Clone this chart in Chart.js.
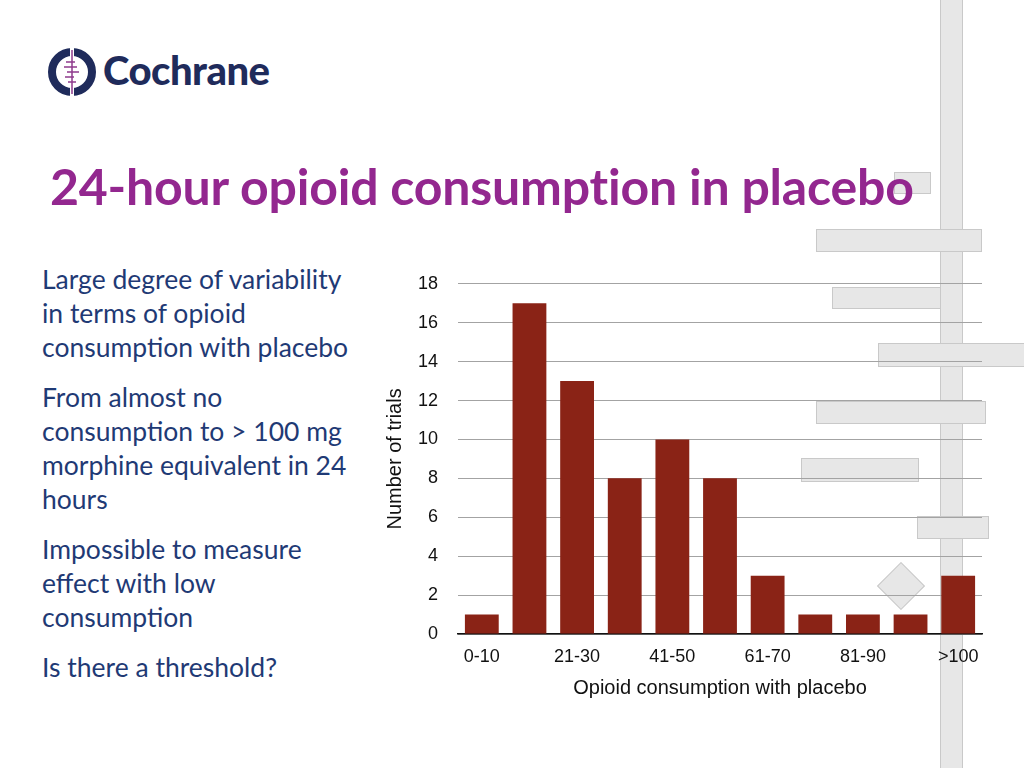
<!DOCTYPE html>
<html>
<head>
<meta charset="utf-8">
<script src="https://cdn.jsdelivr.net/npm/chart.js@4.4.0/dist/chart.umd.min.js"></script>
<style>
  html, body { margin: 0; padding: 0; background: #fff; }
  #slide { position: relative; width: 1024px; height: 768px; overflow: hidden; }
  .deco { position: absolute; background: #e7e7e7; border: 1px solid #c9c9c9; box-sizing: border-box; }
  #logoText { position: absolute; left: 103px; top: 46px; font: 900 40px Lato, sans-serif; color: #1f2b5b; letter-spacing: -0.5px; }
  #title { position: absolute; left: 50px; top: 156px; font: 700 50px Lato, sans-serif; color: #93278f; white-space: nowrap; letter-spacing: -0.2px; }
  #notes { position: absolute; left: 42px; top: 262px; width: 360px; font: 400 26.5px Lato, sans-serif; color: #1f3a75; line-height: 34px; white-space: nowrap; }
  #notes p { margin: 0 0 16px 0; }
  #chartBox { position: absolute; left: 375px; top: 253px; width: 620px; height: 457px; }
</style>
</head>
<body>
<div id="slide">
  <!-- background decoration -->
  <div class="deco" style="left:940px;top:-2px;width:23px;height:772px;"></div>
  <div class="deco" style="left:894px;top:172px;width:37px;height:22px;"></div>
  <div class="deco" style="left:816px;top:229px;width:166px;height:23px;"></div>
  <div class="deco" style="left:832px;top:287px;width:109px;height:22px;"></div>
  <div class="deco" style="left:878px;top:343px;width:150px;height:24px;"></div>
  <div class="deco" style="left:816px;top:401px;width:170px;height:23px;"></div>
  <div class="deco" style="left:801px;top:458px;width:118px;height:24px;"></div>
  <div class="deco" style="left:917px;top:516px;width:72px;height:23px;"></div>
  <div class="deco" style="left:884px;top:569px;width:34px;height:34px;transform:rotate(45deg);"></div>

  <svg style="position:absolute;left:46px;top:46px;" width="54" height="54" viewBox="0 0 54 54">
    <circle cx="26" cy="26" r="20" fill="none" stroke="#1f2b5b" stroke-width="8"/>
    <rect x="24" y="2" width="4" height="48" fill="#fff"/>
    <line x1="26" y1="4" x2="26" y2="48" stroke="#8e3a8c" stroke-width="1.5"/>
    <g stroke="#8e3a8c" stroke-width="1.5">
      <line x1="20" y1="16" x2="29" y2="16"/>
      <line x1="18" y1="21" x2="31" y2="21"/>
      <line x1="21" y1="26" x2="33" y2="26"/>
      <line x1="19" y1="31" x2="28" y2="31"/>
      <line x1="22" y1="36" x2="30" y2="36"/>
    </g>
  </svg>
  <div id="logoText">Cochrane</div>

  <div id="title">24-hour opioid consumption in placebo</div>

  <div id="notes">
    <p>Large degree of variability<br>in terms of opioid<br>consumption with placebo</p>
    <p>From almost no<br>consumption to &gt; 100 mg<br>morphine equivalent in 24<br>hours</p>
    <p>Impossible to measure<br>effect with low<br>consumption</p>
    <p>Is there a threshold?</p>
  </div>

  <div id="chartBox"><canvas id="chart"></canvas></div>
</div>

<script>
// Data
const categories = ['0-10', '11-20', '21-30', '31-40', '41-50', '51-60', '61-70', '71-80', '81-90', '91-100', '>100'];
const trials = [1, 17, 13, 8, 10, 8, 3, 1, 1, 1, 3];
const yTicks = [0, 2, 4, 6, 8, 10, 12, 14, 16, 18];

const axisFont = { family: 'Liberation Sans, Arial, sans-serif', size: 18 };
const titleFont = { family: 'Liberation Sans, Arial, sans-serif', size: 20 };

new Chart(document.getElementById('chart'), {
  type: 'bar',
  data: {
    labels: categories,
    datasets: [{
      label: 'Number of trials',
      data: trials,
      backgroundColor: '#8a2316',
      borderWidth: 0,
      categoryPercentage: 1,
      barPercentage: 0.71
    }]
  },
  options: {
    responsive: true,
    maintainAspectRatio: false,
    animation: false,
    layout: { padding: { top: 6, right: 13, left: 0, bottom: 0 } },
    plugins: { legend: { display: false }, tooltip: { enabled: false } },
    scales: {
      x: {
        grid: { display: false, drawTicks: false },
        border: { display: true, color: '#111', width: 1.5 },
        ticks: {
          autoSkip: false, maxRotation: 0, padding: 12,
          color: '#111', font: axisFont,
          callback: (v, i) => i % 2 === 0 ? categories[i] : ''
        },
        title: { display: true, text: 'Opioid consumption with placebo', color: '#111', font: titleFont, padding: { bottom: 10, top: 0 } },
        afterFit: s => { s.height = 76; }
      },
      y: {
        min: yTicks[0], max: yTicks[yTicks.length - 1],
        afterBuildTicks: s => { s.ticks = yTicks.map(v => ({ value: v })); },
        grid: { drawTicks: false, color: '#a3a3a3', lineWidth: 1 },
        border: { display: false },
        ticks: { padding: 20, color: '#111', font: axisFont },
        title: { display: true, text: 'Number of trials', color: '#111', font: titleFont, padding: { top: 8, bottom: 0 } },
        afterFit: s => { s.width = 83; }
      }
    }
  }
});
</script>
</body>
</html>
